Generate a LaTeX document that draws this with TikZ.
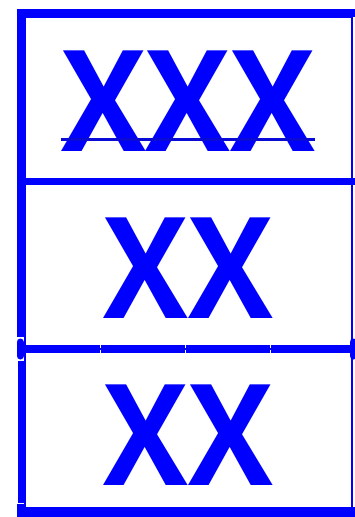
\documentclass[tikz,border=0pt]{standalone}
\usepackage{fontspec}
\setmainfont{Open Sans}
\definecolor{fb}{RGB}{0,0,255}
\definecolor{fbd}{RGB}{10,10,215}
\begin{document}
\begin{tikzpicture}[x=1pt,y=-1pt,
  cell/.style={draw=fb, line width=1.2pt, inner sep=0pt},
  bar/.style={draw=fb, line width=8pt},
  lbl/.style={text=fb, font=\fontsize{141}{141}\selectfont\bfseries, inner sep=0pt, xscale=0.9, transform shape}]
\useasboundingbox[fill=white] (0,0) rectangle (355,517);
% cells
\node[cell, minimum width=327pt, minimum height=164pt] (b1) at (188.5,99) {};
\node[cell, minimum width=327pt, minimum height=168pt] (b2) at (188.5,265) {};
\node[cell, minimum width=327pt, minimum height=163pt] (b3) at (188.5,430.5) {};
% labels
\node[lbl] (t1) at (188,101) {XXX};
\node[lbl] (t2) at (188,268) {XX};
\node[lbl] (t3) at (188,435.5) {XX};
\draw[fbd, line width=2.5pt] ([yshift=12pt]t1.south west) -- ([yshift=12pt]t1.south east);
% thick frame bars
\draw[bar] (17,13) -- (355,13);
\draw[bar] (21,10) -- (21,337);
\draw[bar, line width=7pt] (21,181) -- (355,181);
\draw[bar] (17,349) -- (100,349);
\draw[bar] (100.8,349) -- (185,349);
\draw[bar] (185.8,349) -- (270,349);
\draw[bar] (270.8,349) -- (355,349);
\draw[bar, line width=7pt, line cap=round] (20,342) -- (20,356);
\draw[bar, line width=7pt, line cap=round] (353,342) -- (353,356);
\draw[bar, line width=7pt] (21,361) -- (21,503);
\draw[bar, line width=10pt] (17,512) -- (355,512);
\draw[bar, line width=7pt] (20,504) -- (20,512);
\end{tikzpicture}
\end{document}
